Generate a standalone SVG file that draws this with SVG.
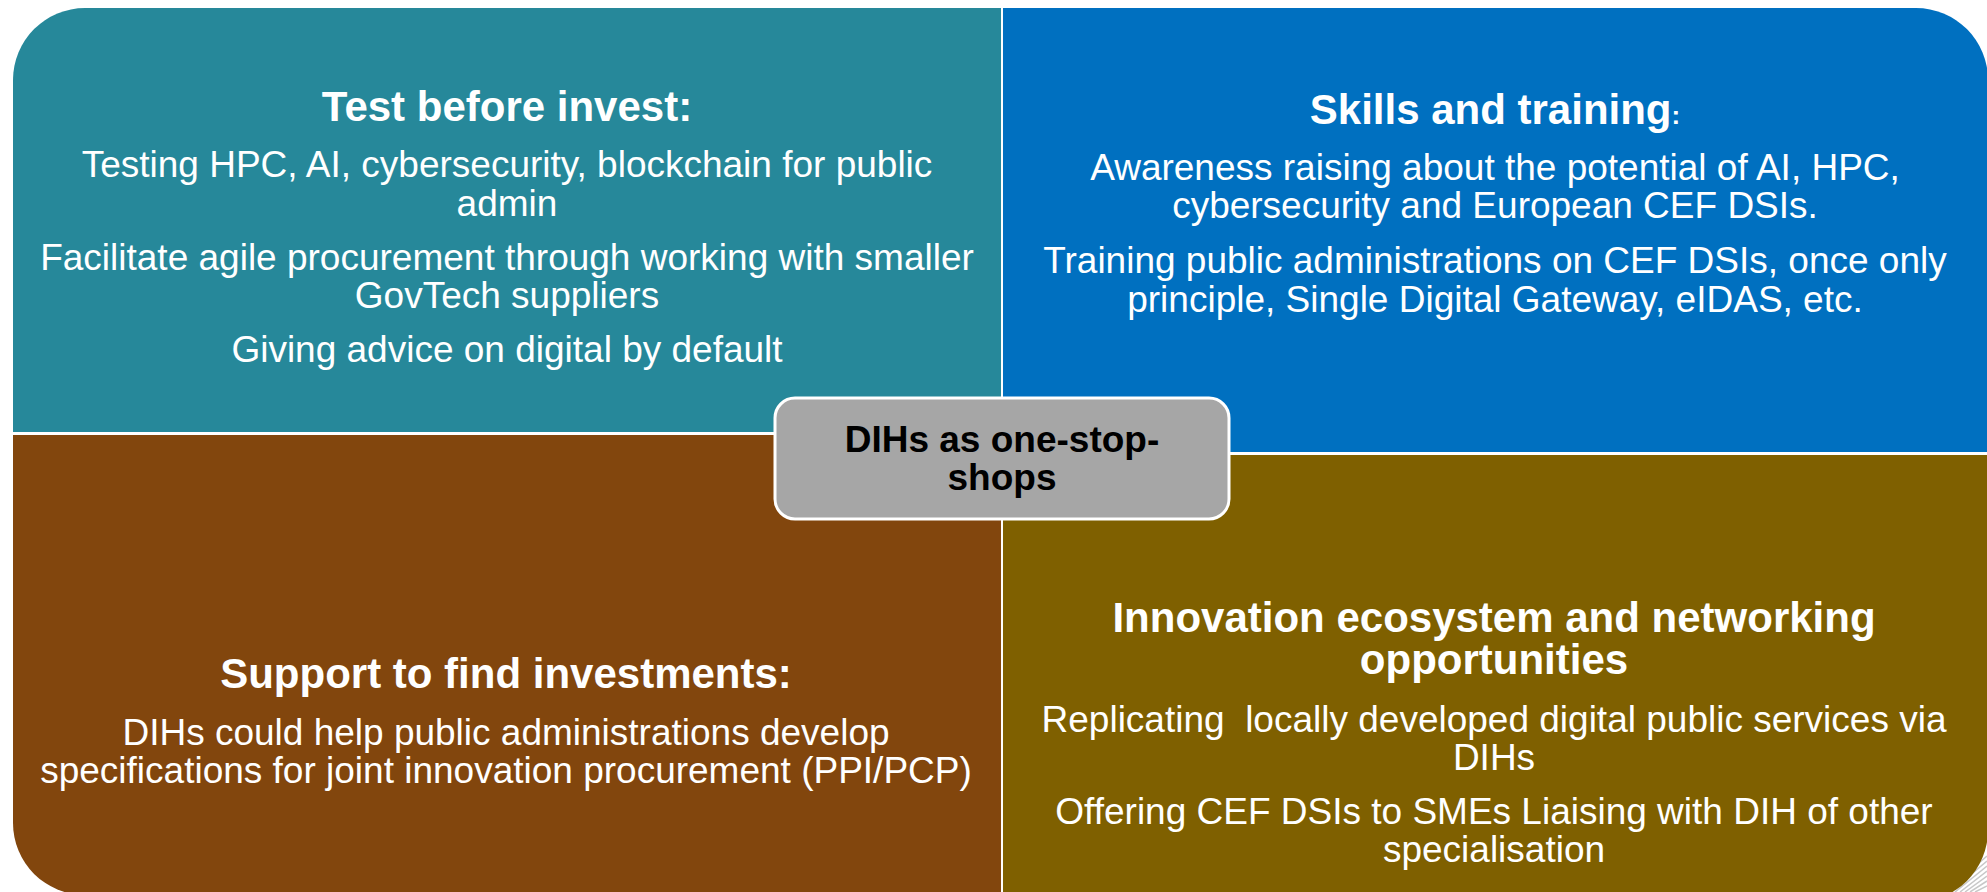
<svg xmlns="http://www.w3.org/2000/svg" width="1987" height="892" viewBox="0 0 1987 892">
<style>
.title{font-family:"Liberation Sans",Arial,sans-serif;font-weight:bold;font-size:42px;fill:#fff;text-anchor:middle}
.body{font-family:"Liberation Sans",Arial,sans-serif;font-size:37px;fill:#fff;text-anchor:middle}
.center{font-family:"Liberation Sans",Arial,sans-serif;font-weight:bold;font-size:37px;fill:#000;text-anchor:middle}
.stripe{stroke:#c8c8c8;stroke-width:1.5}
</style>
<rect width="1987" height="892" fill="#fff"/>
<g id="curl">
<line class="stripe" x1="1945" y1="892" x2="1987" y2="856"/>
<line class="stripe" x1="1950" y1="892" x2="1987" y2="861"/>
<line class="stripe" x1="1955" y1="892" x2="1987" y2="866"/>
<line class="stripe" x1="1960" y1="892" x2="1987" y2="871"/>
<line class="stripe" x1="1965" y1="892" x2="1987" y2="876"/>
<line class="stripe" x1="1970" y1="892" x2="1987" y2="881"/>
<line class="stripe" x1="1975" y1="892" x2="1987" y2="886"/>
</g>
<g id="test-before-invest">
<path d="M13,80 A72,72 0 0 1 85,8 L1001,8 L1001,432 L13,432 Z" fill="#26889A"/>
<text class="title" x="507" y="121">Test before invest:</text>
<text class="body" x="507" y="177">Testing HPC, AI, cybersecurity, blockchain for public</text>
<text class="body" x="507" y="216">admin</text>
<text class="body" x="507" y="270">Facilitate agile procurement through working with smaller</text>
<text class="body" x="507" y="308">GovTech suppliers</text>
<text class="body" x="507" y="362">Giving advice on digital by default</text>
</g>
<g id="skills-and-training">
<path d="M1003,8 L1916,8 A72,72 0 0 1 1988,80 L1988,452 L1003,452 Z" fill="#0070C0"/>
<text class="title" x="1495" y="124">Skills and training<tspan font-size="26">:</tspan></text>
<text class="body" x="1495" y="180">Awareness raising about the potential of AI, HPC,</text>
<text class="body" x="1495" y="218">cybersecurity and European CEF DSIs.</text>
<text class="body" x="1495" y="273">Training public administrations on CEF DSIs, once only</text>
<text class="body" x="1495" y="312">principle, Single Digital Gateway, eIDAS, etc.</text>
</g>
<g id="support-to-find-investments">
<path d="M13,435 L1001,435 L1001,895 L85,895 A72,72 0 0 1 13,823 Z" fill="#82460D"/>
<text class="title" x="506" y="688">Support to find investments:</text>
<text class="body" x="506" y="745">DIHs could help public administrations develop</text>
<text class="body" x="506" y="783">specifications for joint innovation procurement (PPI/PCP)</text>
</g>
<g id="innovation-ecosystem">
<path d="M1003,455 L1988,455 L1988,830 A72,72 0 0 1 1916,902 L1003,902 Z" fill="#7F6000"/>
<text class="title" x="1494" y="632">Innovation ecosystem and networking</text>
<text class="title" x="1494" y="674">opportunities</text>
<text class="body" x="1494" y="732" xml:space="preserve">Replicating  locally developed digital public services via</text>
<text class="body" x="1494" y="770">DIHs</text>
<text class="body" x="1494" y="824">Offering CEF DSIs to SMEs Liaising with DIH of other</text>
<text class="body" x="1494" y="862">specialisation</text>
</g>
<g id="connectors"></g>
<g id="dihs-one-stop-shops">
<rect x="775" y="398" width="454" height="121" rx="20" ry="20" fill="#A6A6A6" stroke="#fff" stroke-width="3"/>
<text class="center" x="1002" y="452">DIHs as one-stop-</text>
<text class="center" x="1002" y="490">shops</text>
</g>
</svg>
